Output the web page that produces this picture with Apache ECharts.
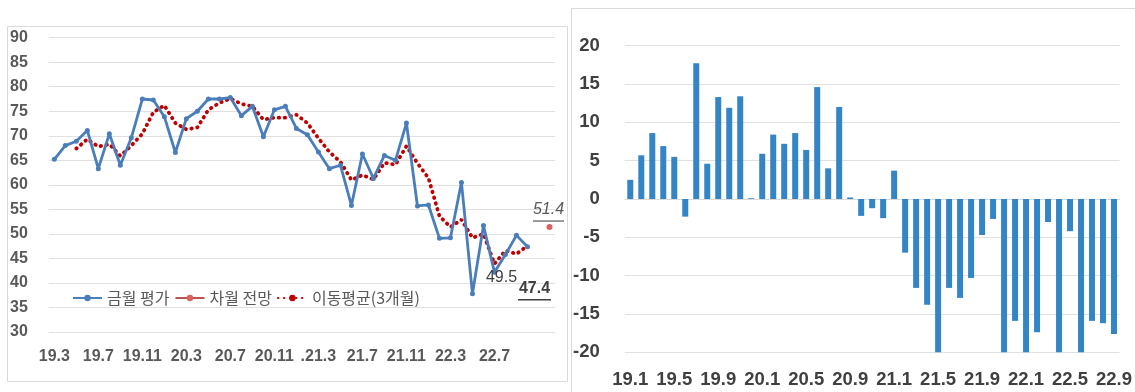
<!DOCTYPE html>
<html>
<head>
<meta charset="utf-8">
<script src="https://cdn.jsdelivr.net/npm/echarts@6/dist/echarts.min.js"></script>
<style>
    html, body { margin: 0; padding: 0; background: #fff; }
    #chart { width: 1135px; height: 392px; }
</style>
</head>
<body>
<div id="chart"></div>
<script>
// 왼쪽: 금월 평가 / 차월 전망 / 3개월 이동평균
var monthsLeft = ['19.3','19.4','19.5','19.6','19.7','19.8','19.9','19.10','19.11','19.12',
    '20.1','20.2','20.3','20.4','20.5','20.6','20.7','20.8','20.9','20.10','20.11','20.12',
    '21.1','21.2','21.3','21.4','21.5','21.6','21.7','21.8','21.9','21.10','21.11','21.12',
    '22.1','22.2','22.3','22.4','22.5','22.6','22.7','22.8','22.9','22.10','22.11','22.12'];
var tickLeft = ['19.3','19.7','19.11','20.3','20.7','20.11','.21.3','21.7','21.11','22.3','22.7'];
var thisMonth = [65.2,68.0,68.9,71.1,63.3,70.4,64.0,69.6,77.5,77.3,
    73.9,66.6,73.5,75.0,77.5,77.5,77.8,74.1,76.0,69.8,75.3,76.0,
    71.5,70.2,66.7,63.3,64.0,55.8,66.3,61.3,66.0,65.0,72.6,55.7,
    55.9,49.1,49.2,60.5,37.8,51.7,42.2,45.8,49.7,47.4,null,null];
var nextMonth = [null,null,null,null,null,null,null,null,null,null,
    null,null,null,null,null,null,null,null,null,null,null,null,
    null,null,null,null,null,null,null,null,null,null,null,null,
    null,null,null,null,null,null,null,null,null,null,null,51.4];
var movingAvg = [null,null,67.4,69.3,67.8,68.3,65.9,68.0,70.4,74.8,
    76.2,72.6,71.3,71.7,75.3,76.7,77.6,76.5,76.0,73.3,73.7,73.7,
    74.3,72.6,69.5,66.7,64.7,61.0,62.0,61.1,64.5,64.1,67.9,64.4,
    61.4,53.6,51.4,52.9,49.2,50.0,43.9,46.6,45.9,47.6,null,null];

// 오른쪽: 막대
var monthsRight = ['19.1','19.2','19.3','19.4','19.5','19.6','19.7','19.8','19.9','19.10','19.11','19.12',
    '20.1','20.2','20.3','20.4','20.5','20.6','20.7','20.8','20.9','20.10','20.11','20.12',
    '21.1','21.2','21.3','21.4','21.5','21.6','21.7','21.8','21.9','21.10','21.11','21.12',
    '22.1','22.2','22.3','22.4','22.5','22.6','22.7','22.8','22.9'];
var barValues = [2.5,5.7,8.6,6.9,5.5,-2.3,17.7,4.6,13.3,11.9,13.4,0.1,
    5.9,8.4,7.2,8.6,6.4,14.6,4.0,12.0,0.2,-2.2,-1.2,-2.5,
    3.7,-7.0,-11.6,-13.8,-20,-11.6,-12.9,-10.3,-4.7,-2.6,-20,-15.9,
    -20,-17.4,-3.0,-20,-4.2,-20,-15.9,-16.2,-17.6];

var FONT = 'Liberation Sans, Arial, sans-serif';
var KFONT = 'Noto Sans CJK KR, sans-serif';

function labelData(arr, idx, label) {
    return arr.map(function (v, i) {
        if (i === idx) return { value: v, label: label };
        return v;
    });
}

var myChart = echarts.init(document.getElementById('chart'));

var thisMonthData = labelData(thisMonth, 43, {
    show: true, position: 'inside', offset: [7, 44],
    formatter: '{b|47.4}\n{u|}',
    rich: {
        b: { fontFamily: FONT, fontSize: 16, fontWeight: 'bold', color: '#404040', lineHeight: 18 },
        u: { width: 33, height: 1.5, lineHeight: 4, backgroundColor: '#404040' }
    }
});
thisMonthData[40] = {
    value: thisMonth[40],
    label: { show: true, position: 'inside', offset: [7, 5], formatter: '49.5',
        fontFamily: FONT, fontSize: 16, color: '#404040' }
};

var nextMonthData = labelData(nextMonth, 45, {
    show: true, position: 'inside', offset: [-1, -15],
    formatter: '{i|51.4}\n{u|}',
    rich: {
        i: { fontFamily: FONT, fontSize: 16, fontStyle: 'italic', color: '#595959', lineHeight: 18 },
        u: { width: 31, height: 1.2, lineHeight: 4, backgroundColor: '#595959' }
    }
});

var option = {
    backgroundColor: '#fff',
    animation: false,
    graphic: [
        { type: 'rect', shape: { x: 7.5, y: 26.5, width: 560, height: 355 },
          style: { fill: 'none', stroke: '#d9d9d9', lineWidth: 1 } },
        { type: 'rect', shape: { x: 571.5, y: 8.5, width: 600, height: 420 },
          style: { fill: 'none', stroke: '#d9d9d9', lineWidth: 1 } }
    ],
    legend: {
        left: 67, top: 285,
        itemWidth: 29, itemHeight: 8, itemGap: 5,
        textStyle: { fontFamily: KFONT, fontSize: 16, color: '#595959' },
        data: ['금월 평가', '차월 전망', '이동평균(3개월)']
    },
    grid: [
        { left: 48.8, right: 580, top: 37.7, bottom: 60 },
        { left: 624.8, right: 13.8, top: 45.7, bottom: 39.7 }
    ],
    xAxis: [{
        type: 'category', gridIndex: 0, data: monthsLeft,
        axisLine: { show: false }, axisTick: { show: false },
        axisLabel: {
            interval: 3, margin: 17,
            fontFamily: FONT, fontSize: 16, fontWeight: 'bold', color: '#595959',
            formatter: function (v, i) { return tickLeft[i / 4] || ''; }
        }
    }, {
        type: 'category', gridIndex: 1, data: monthsRight,
        axisLine: { lineStyle: { color: '#d9d9d9' } }, axisTick: { show: false },
        axisLabel: {
            interval: 3, margin: 18,
            fontFamily: FONT, fontSize: 18.5, fontWeight: 'bold', color: '#404040'
        }
    }],
    yAxis: [{
        type: 'value', gridIndex: 0, min: 30, max: 90, interval: 5,
        axisLine: { show: false }, axisTick: { show: false },
        splitLine: { lineStyle: { color: '#e0e0e0' } },
        axisLabel: { margin: 21, fontFamily: FONT, fontSize: 16, fontWeight: 'bold', color: '#595959' }
    }, {
        type: 'value', gridIndex: 1, min: -20, max: 20, interval: 5,
        axisLine: { show: false }, axisTick: { show: false },
        splitLine: { lineStyle: { color: '#e0e0e0' } },
        axisLabel: { margin: 25, fontFamily: FONT, fontSize: 18.5, fontWeight: 'bold', color: '#404040' }
    }],
    series: [{
        name: '금월 평가', type: 'line', xAxisIndex: 0, yAxisIndex: 0,
        data: thisMonthData,
        symbol: 'circle', symbolSize: 5,
        color: '#4a7ebb',
        lineStyle: { width: 2.8, color: '#4a7ebb' },
        itemStyle: { color: '#4a7ebb' },
        z: 3
    }, {
        name: '차월 전망', type: 'line', xAxisIndex: 0, yAxisIndex: 0,
        data: nextMonthData,
        symbol: 'circle', symbolSize: 6,
        color: '#c0504d',
        lineStyle: { width: 2.5, color: '#c0504d' },
        itemStyle: { color: '#d9625e' }
    }, {
        name: '이동평균(3개월)', type: 'line', xAxisIndex: 0, yAxisIndex: 0,
        data: movingAvg,
        showSymbol: false, symbol: 'none',
        color: '#c00000',
        lineStyle: { width: 3.8, color: '#c00000', type: [0.5, 5.5], cap: 'round' },
        z: 2
    }, {
        type: 'bar', xAxisIndex: 1, yAxisIndex: 1,
        data: barValues,
        barWidth: 6,
        itemStyle: { color: '#3385c6' }
    }]
};

myChart.setOption(option);
</script>
</body>
</html>
